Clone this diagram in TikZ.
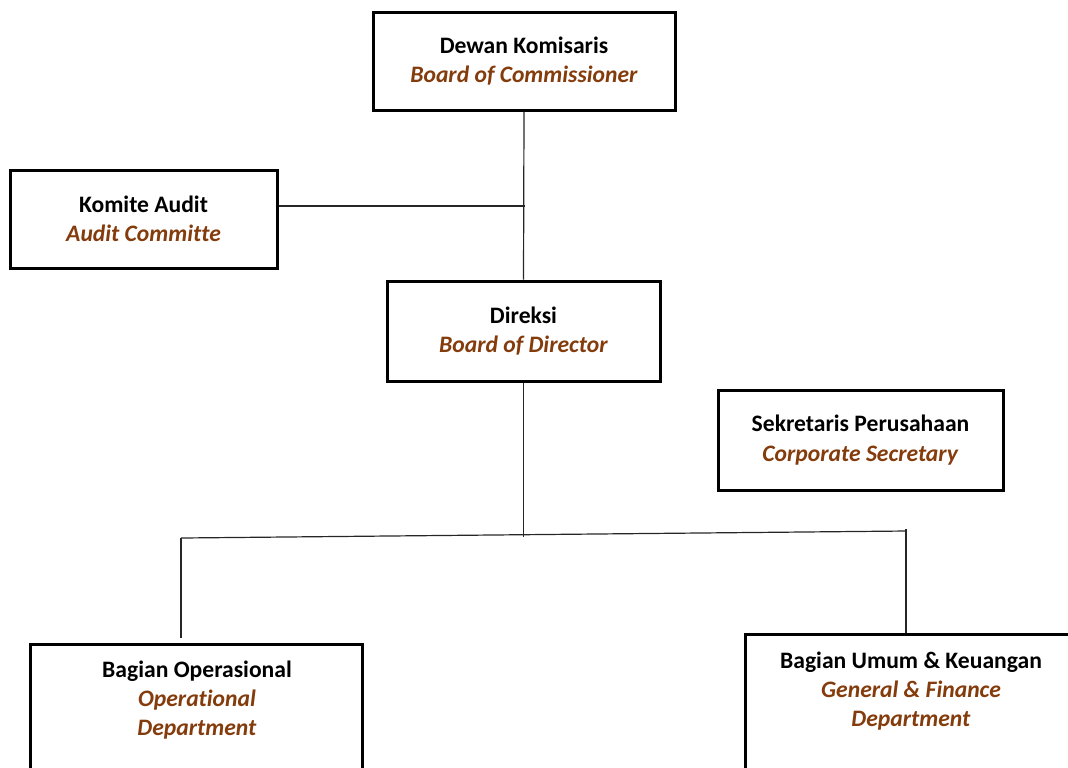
\documentclass[tikz,border=0pt]{standalone}
\usepackage{fontspec}
\setmainfont{Carlito}[Ligatures={NoCommon,NoContextual}]
\usepackage{tikz}
\usetikzlibrary{positioning}
\usepackage{xcolor}
\definecolor{orgbrown}{RGB}{132,60,12}
\tikzstyle{orgbox} = [draw=black,line width=1.5pt,fill=white,inner sep=0pt]
\tikzstyle{orgtext} = [align=center,inner sep=0pt,font=\fontsize{11.8}{14.6}\selectfont]
\tikzstyle{link} = [draw=black!85,line width=0.6pt]
\newcommand{\engsub}[1]{\textcolor{orgbrown}{\textbf{\textit{#1}}}}

\begin{document}
\begin{tikzpicture}[x=0.5pt,y=-0.5pt]
\useasboundingbox (0,0) rectangle (1068,767);
\clip (0,0) rectangle (1068,767);

% Top level
\node[orgbox,orgtext,minimum width=151pt,minimum height=49pt] (dewan) at (524,61)
  {\textbf{Dewan Komisaris}\\\engsub{Board of Commissioner}};
\node[orgbox,orgtext,minimum width=133.5pt,minimum height=49pt] (komite) at (143.5,219)
  {\textbf{Komite Audit}\\\engsub{Audit Committe}};
\node[orgbox,orgtext,minimum width=136.5pt,minimum height=50pt] (direksi) at (523.5,331)
  {\textbf{Direksi}\\\engsub{Board of Director}};
\node[orgbox,orgtext,minimum width=142.5pt,minimum height=50pt] (sekretaris) at (860.5,440)
  {\textbf{Sekretaris Perusahaan}\\\engsub{Corporate Secretary}};

% Departments (boxes run past the lower edge)
\node[orgbox,anchor=north west,minimum width=166pt,minimum height=90pt] (ops) at (29,643) {};
\node[orgtext] (opstext) at (197,700)
  {\textbf{Bagian Operasional}\\\engsub{Operational}\\\engsub{Department}};
\node[orgbox,anchor=north west,minimum width=167pt,minimum height=95pt] (fin) at (744,633) {};
\node[orgtext] (fintext) at (911,691)
  {\textbf{Bagian Umum \& Keuangan}\\\engsub{General \& Finance}\\\engsub{Department}};

% Connectors
\draw[link] (dewan.south) -- (direksi.north);
\draw[link] ([yshift=6.5pt]komite.east) -- ++(246,0);
\coordinate (busleft) at (181,538);
\coordinate (busright) at (906,531);
\draw[link] (direksi.south) -- ++(0,154);
\draw[link] (busleft) -- (busright);
\draw[link] (busleft) -- ([yshift=2.5pt]ops.north -| busleft);
\draw[link] ([yshift=1pt]busright) -- (busright |- fin.north);
\end{tikzpicture}
\end{document}
